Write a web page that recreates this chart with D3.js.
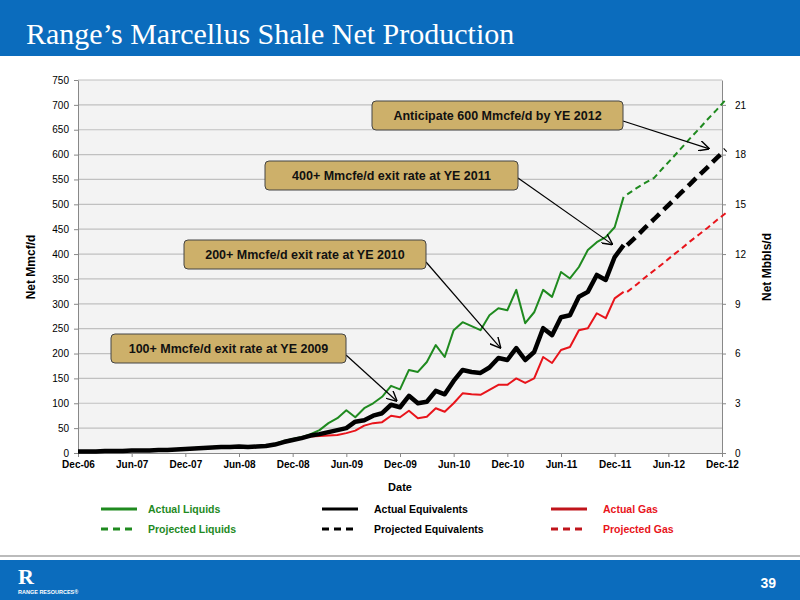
<!DOCTYPE html>
<html><head><meta charset="utf-8">
<script src="https://cdn.jsdelivr.net/npm/d3@7"></script>
<style>body{margin:0;background:#fff}svg{display:block}</style>
</head><body>
<svg id="c" width="800" height="600"></svg>
<script>
const xTickLabels = ["Dec-06","Jun-07","Dec-07","Jun-08","Dec-08","Jun-09","Dec-09","Jun-10","Dec-10","Jun-11","Dec-11","Jun-12","Dec-12"];
// monthly values, month 0 = Dec-06
const actualLiquids = [3,3,3,4,4,5,5,5,6,6,7,8, 9,10,11,12,13,13,14,14,13,14,18,24, 28,32,38,46,60,70,86,72,90,100,113,135,
  128,167,163,183,217,193,247,263,255,247,277,291,287,328,261,283,328,314,364,351,374,408,424,434,454,515];
const actualEquiv = [3,3,3,4,4,4,5,5,5,6,6,7, 8,9,10,11,12,12,13,12,13,14,17,22, 26,30,35,38,42,46,50,63,66,75,80,97,
  92,115,100,103,125,118,145,167,163,161,172,191,187,211,187,203,251,237,273,277,314,324,358,348,394,418];
const actualGas = [3,3,3,3,4,4,4,5,5,5,6,6, 7,8,9,10,11,11,12,11,12,13,16,21, 25,30,33,34,35,36,40,45,55,60,62,75,
  72,85,70,73,90,83,100,120,118,117,127,137,137,150,141,150,193,181,207,213,247,251,281,271,311,324];
const projStart = 61;
const projLiquids = [520,532,543,553,573,592,612,632,651,671,690,710];
const projEquiv = [418,435,453,470,488,505,523,540,558,575,593,610];
const projGas = [324,338,353,367,381,396,410,425,439,453,468,482];
const leftTicks = d3.range(0,751,50);
const rightTicks = [0,3,6,9,12,15,18,21];

const svg = d3.select("#c");
const W=800;
const blue="#0b6cbd";
svg.append("rect").attr("x",0).attr("y",0).attr("width",W).attr("height",56).attr("fill",blue);
svg.append("text").attr("x",26).attr("y",44).attr("fill","#fff").attr("font-family","Liberation Serif, serif").attr("font-size",30).text("Range’s Marcellus Shale Net Production");
svg.append("rect").attr("x",0).attr("y",555).attr("width",W).attr("height",2).attr("fill","#bbb");
svg.append("rect").attr("x",0).attr("y",560).attr("width",W).attr("height",40).attr("fill",blue);
svg.append("text").attr("x",776).attr("y",588).attr("text-anchor","end").attr("fill","#fff").attr("font-family","Liberation Sans, Arial").attr("font-weight","bold").attr("font-size",14).text("39");
svg.append("text").attr("x",18).attr("y",584).attr("fill","#fff").attr("font-family","Liberation Serif, serif").attr("font-weight","bold").attr("font-size",22).text("R");
svg.append("text").attr("x",18).attr("y",594).attr("fill","#fff").attr("font-family","Liberation Sans, Arial").attr("font-weight","bold").attr("font-size",5.5).text("RANGE RESOURCES®");

const L=78,R=722,T=80,B=453;
const x=d3.scaleLinear().domain([0,72]).range([L,R]);
const y=d3.scaleLinear().domain([0,750]).range([B,T]);
const y2=d3.scaleLinear().domain([0,22.5]).range([B,T]);
svg.append("rect").attr("x",L).attr("y",T).attr("width",R-L).attr("height",B-T).attr("fill","#f3f3f3");
svg.append("g").selectAll("line").data(leftTicks.slice(1)).join("line")
  .attr("x1",L).attr("x2",R).attr("y1",d=>y(d)).attr("y2",d=>y(d)).attr("stroke","#c0c0c0").attr("stroke-width",1.2);
const font="Liberation Sans, Arial, sans-serif";
const gl=svg.append("g").attr("transform",`translate(${L},0)`).call(d3.axisLeft(y).tickValues(leftTicks).tickSize(4).tickSizeOuter(0));
const gr=svg.append("g").attr("transform",`translate(${R},0)`).call(d3.axisRight(y2).tickValues(rightTicks).tickSize(4).tickSizeOuter(0));
const gb=svg.append("g").attr("transform",`translate(0,${B})`).call(d3.axisBottom(x).tickValues(d3.range(0,73,6)).tickFormat((d,i)=>xTickLabels[i]).tickSize(4).tickSizeOuter(0));
[gl,gr,gb].forEach(g=>{g.selectAll("path,line").attr("stroke","#888");g.selectAll("text").attr("font-family",font).attr("font-size",10).attr("fill","#000");});
gl.selectAll("text").attr("dx",-2);
gr.selectAll("text").attr("dx",6);
gb.selectAll("text").attr("font-weight","bold").attr("dy",8);
svg.append("text").attr("x",400).attr("y",491).attr("text-anchor","middle").attr("font-family",font).attr("font-weight","bold").attr("font-size",11).text("Date");
svg.append("text").attr("transform","translate(35,267) rotate(-90)").attr("text-anchor","middle").attr("font-family",font).attr("font-weight","bold").attr("font-size",12).text("Net Mmcf/d");
svg.append("text").attr("transform","translate(771,267) rotate(-90)").attr("text-anchor","middle").attr("font-family",font).attr("font-weight","bold").attr("font-size",12).text("Net Mbbls/d");

const line=d3.line().x(d=>x(d[0])).y(d=>y(d[1]));
const ser=[
 {a:actualLiquids,p:projLiquids,c:"#1f8a1f",w:2},
 {a:actualGas,p:projGas,c:"#e8141b",w:2},
 {a:actualEquiv,p:projEquiv,c:"#000",w:4.5},
];
ser.forEach(s=>{
  svg.append("path").attr("d",line(s.a.map((v,i)=>[i,v]))).attr("fill","none").attr("stroke",s.c).attr("stroke-width",s.w).attr("stroke-linejoin","round");
  svg.append("path").attr("d",line(s.p.map((v,i)=>[projStart+i+0.4,v]))).attr("fill","none").attr("stroke",s.c).attr("stroke-width",s.w)
    .attr("stroke-dasharray",s.w>3?"11,6":"6,4");
});

const defs=svg.append("defs");
defs.append("marker").attr("id","ar").attr("viewBox","0 0 10 10").attr("refX",9).attr("refY",5).attr("markerWidth",9).attr("markerHeight",9).attr("orient","auto")
 .append("path").attr("d","M0,0 L10,5 L0,10").attr("fill","none").attr("stroke","#000").attr("stroke-width",1.3);
const notes=[
 {t:"Anticipate 600 Mmcfe/d by YE 2012",bx:372,by:101,bw:251,sx:623,sy:121,tm:70.5,tv:612},
 {t:"400+ Mmcfe/d exit rate at YE 2011",bx:265,by:161,bw:253,sx:518,sy:178,tm:59.7,tv:420},
 {t:"200+ Mmcfe/d exit rate at YE 2010",bx:184,by:240,bw:242,sx:426,sy:262,tm:47.2,tv:212},
 {t:"100+ Mmcfe/d exit rate at YE 2009",bx:111,by:334,bw:235,sx:346,sy:355,tm:35.6,tv:105},
];
notes.forEach(n=>{
  svg.append("line").attr("x1",n.sx).attr("y1",n.sy).attr("x2",x(n.tm)).attr("y2",y(n.tv)).attr("stroke","#000").attr("stroke-width",1.2).attr("marker-end","url(#ar)");
  svg.append("rect").attr("x",n.bx).attr("y",n.by).attr("width",n.bw).attr("height",29).attr("rx",4).attr("fill","#cdb06a").attr("stroke","#444").attr("stroke-width",1);
  svg.append("text").attr("x",n.bx+n.bw/2).attr("y",n.by+19).attr("text-anchor","middle").attr("font-family",font).attr("font-weight","bold").attr("font-size",12.5).attr("fill","#111").text(n.t);
});

const leg=[
 {t:"Actual Liquids",c:"#1f8a1f",tc:"#1f8a1f",d:null,x:101,y:509},
 {t:"Actual Equivalents",c:"#000",tc:"#000",d:null,x:322,y:509},
 {t:"Actual Gas",c:"#c0141b",tc:"#e8141b",d:null,x:551,y:509},
 {t:"Projected Liquids",c:"#1f8a1f",tc:"#1f8a1f",d:"7,5",x:101,y:529},
 {t:"Projected Equivalents",c:"#000",tc:"#000",d:"7,5",x:322,y:529},
 {t:"Projected Gas",c:"#c0141b",tc:"#e8141b",d:"7,5",x:551,y:529},
];
leg.forEach(l=>{
  svg.append("line").attr("x1",l.x).attr("x2",l.x+36).attr("y1",l.y).attr("y2",l.y).attr("stroke",l.c).attr("stroke-width",3).attr("stroke-dasharray",l.d);
  svg.append("text").attr("x",l.x+(l.x===101?47:52)).attr("y",l.y+4).attr("font-family",font).attr("font-weight","bold").attr("font-size",10.5).attr("fill",l.tc).text(l.t);
});
</script>
</body></html>
